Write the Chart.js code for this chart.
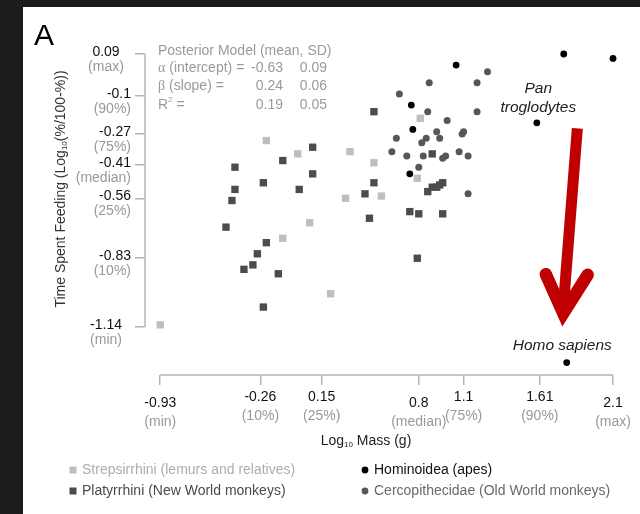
<!DOCTYPE html>
<html>
<head>
<meta charset="utf-8">
<title>Time spent feeding vs body mass</title>
<script src="https://cdn.jsdelivr.net/npm/chart.js@4.4.0/dist/chart.umd.min.js"></script>
<style>
  html, body { margin: 0; padding: 0; background: #1c1c1c; }
  #panel { position: absolute; left: 23px; top: 7px; width: 617px; height: 507px; background: #fff; }
</style>
</head>
<body>
<div id="panel"><canvas id="chart"></canvas></div>
<script>
// axis ticks (value + quantile note)
const xTicks = [-0.93, -0.26, 0.15, 0.8, 1.1, 1.61, 2.1];
const xTickNotes = ['(min)', '(10%)', '(25%)', '(median)', '(75%)', '(90%)', '(max)'];
const yTicks = [0.09, -0.1, -0.27, -0.41, -0.56, -0.83, -1.14];
const yTickNotes = ['(max)', '(90%)', '(75%)', '(median)', '(25%)', '(10%)', '(min)'];

// Strepsirrhini (lemurs and relatives)
const strepX = [-0.93, -0.22, -0.01, 0.34, 0.31, 0.07, -0.11, 0.21, 0.50, 0.55, 0.81, 0.79];
const strepY = [-1.13, -0.30, -0.36, -0.35, -0.56, -0.67, -0.74, -0.99, -0.40, -0.55, -0.20, -0.47];

// Platyrrhini (New World monkeys)
const platyX = [0.09, -0.11, -0.43, 0.09, -0.24, -0.43, 0.00, -0.45, -0.49, -0.22, -0.28, -0.31, -0.37, -0.14, -0.24,
                0.50, 0.89, 0.50, 0.44, 0.47, 0.74, 0.80, 0.96, 0.79, 0.86, 0.89, 0.92, 0.94, 0.96];
const platyY = [-0.33, -0.39, -0.42, -0.45, -0.49, -0.52, -0.52, -0.57, -0.69, -0.76, -0.81, -0.86, -0.88, -0.90, -1.05,
                -0.17, -0.36, -0.49, -0.54, -0.65, -0.62, -0.63, -0.63, -0.83, -0.53, -0.51, -0.51, -0.50, -0.49];

// Hominoidea (apes), last one is Homo sapiens
const homX = [1.05, 1.77, 2.10, 0.75, 0.76, 1.59, 0.74, 1.79];
const homY = [0.04, 0.09, 0.07, -0.14, -0.25, -0.22, -0.45, -1.30];

// Cercopithecidae (Old World monkeys)
const cercX = [1.26, 0.87, 1.19, 0.67, 0.86, 1.19, 0.99, 1.10, 1.09, 0.92, 0.94, 0.85, 0.82, 0.65, 0.62, 0.72,
               0.83, 0.96, 0.98, 1.07, 1.13, 0.80, 1.13];
const cercY = [0.01, -0.04, -0.04, -0.09, -0.17, -0.17, -0.21, -0.26, -0.27, -0.26, -0.29, -0.29, -0.31, -0.29,
               -0.35, -0.37, -0.37, -0.38, -0.37, -0.35, -0.37, -0.42, -0.54];

const FONT = '"Liberation Sans", Arial, Helvetica, sans-serif';

function zip(xs, ys) {
    return xs.map((x, i) => ({ x: x, y: ys[i] }));
}

// draw a run of text pieces, some of them sub/superscript
function richText(ctx, parts, x, y, align, size, color) {
    const fontFor = p => (p.sub || p.sup ? Math.round(size * 0.6) : size) + 'px ' + (p.serif ? '"Liberation Serif", serif' : FONT);
    let total = 0;
    parts.forEach(p => { ctx.font = fontFor(p); total += ctx.measureText(p.t).width; });
    let cx = align === 'center' ? x - total / 2 : align === 'right' ? x - total : x;
    ctx.fillStyle = color;
    ctx.textAlign = 'left';
    ctx.textBaseline = 'middle';
    parts.forEach(p => {
        ctx.font = fontFor(p);
        const dy = p.sub ? size * 0.3 : p.sup ? -size * 0.35 : 0;
        ctx.fillText(p.t, cx, y + dy);
        cx += ctx.measureText(p.t).width;
    });
}

const decorations = {
    id: 'decorations',
    afterDraw(chart) {
        const ctx = chart.ctx;
        const xs = chart.scales.x, ys = chart.scales.y;
        const area = chart.chartArea;
        ctx.save();

        // axis lines only over the tick range
        ctx.strokeStyle = '#b5b5b5';
        ctx.lineWidth = 1.5;
        ctx.beginPath();
        ctx.moveTo(xs.getPixelForValue(xTicks[0]), area.bottom);
        ctx.lineTo(xs.getPixelForValue(xTicks[xTicks.length - 1]), area.bottom);
        ctx.moveTo(area.left, ys.getPixelForValue(yTicks[0]));
        ctx.lineTo(area.left, ys.getPixelForValue(yTicks[yTicks.length - 1]));
        ctx.stroke();

        // x tick labels: value over quantile note
        xTicks.forEach((v, i) => {
            const px = xs.getPixelForValue(v);
            const drop = (xTickNotes[i] === '(min)' || xTickNotes[i] === '(max)' || xTickNotes[i] === '(median)') ? 6 : 0;
            richText(ctx, [{ t: String(v) }], px, area.bottom + 22 + drop, 'center', 14, '#111');
            richText(ctx, [{ t: xTickNotes[i] }], px, area.bottom + 41 + drop, 'center', 14, '#999');
        });

        // y tick labels
        yTicks.forEach((v, i) => {
            const py = ys.getPixelForValue(v);
            const ends = yTickNotes[i] === '(min)' || yTickNotes[i] === '(max)';
            const lx = ends ? area.left - 39 : area.left - 14;
            const al = ends ? 'center' : 'right';
            richText(ctx, [{ t: String(v) }], lx, py - 2, al, 14, '#111');
            richText(ctx, [{ t: yTickNotes[i] }], lx, py + 13, al, 14, '#999');
        });

        // axis titles
        richText(ctx, [{ t: 'Log' }, { t: '10', sub: true }, { t: ' Mass (g)' }], 343, 434, 'center', 14, '#222');
        ctx.save();
        ctx.translate(38, 182);
        ctx.rotate(-Math.PI / 2);
        richText(ctx, [{ t: 'Time Spent Feeding (Log' }, { t: '10', sub: true }, { t: '(%/100-%))' }], 0, 0, 'center', 14, '#333');
        ctx.restore();

        // panel letter
        ctx.fillStyle = '#000';
        ctx.font = '30px ' + FONT;
        ctx.textAlign = 'left';
        ctx.textBaseline = 'alphabetic';
        ctx.fillText('A', 11, 38);

        // posterior model block
        const gray = '#9a9a9a';
        const sx = area.left + 13, c1 = 260, c2 = 304;
        richText(ctx, [{ t: 'Posterior Model (mean, SD)' }], sx, 44, 'left', 14, gray);
        richText(ctx, [{ t: 'α', serif: true }, { t: ' (intercept) =' }], sx, 61, 'left', 14, gray);
        richText(ctx, [{ t: '-0.63' }], c1, 61, 'right', 14, gray);
        richText(ctx, [{ t: '0.09' }], c2, 61, 'right', 14, gray);
        richText(ctx, [{ t: 'β', serif: true }, { t: ' (slope) =' }], sx, 79, 'left', 14, gray);
        richText(ctx, [{ t: '0.24' }], c1, 79, 'right', 14, gray);
        richText(ctx, [{ t: '0.06' }], c2, 79, 'right', 14, gray);
        richText(ctx, [{ t: 'R' }, { t: '2', sup: true }, { t: ' =' }], sx, 98, 'left', 14, gray);
        richText(ctx, [{ t: '0.19' }], c1, 98, 'right', 14, gray);
        richText(ctx, [{ t: '0.05' }], c2, 98, 'right', 14, gray);

        // species labels
        const ital = (txt, vx, vy) => {
            ctx.font = 'italic 15.5px ' + FONT;
            ctx.fillStyle = '#222';
            ctx.textAlign = 'center';
            ctx.textBaseline = 'middle';
            ctx.fillText(txt, xs.getPixelForValue(vx), ys.getPixelForValue(vy));
        };
        ital('Pan', 1.60, -0.068);
        ital('troglodytes', 1.60, -0.153);
        ital('Homo sapiens', 1.76, -1.225);

        // red arrow from chimp down to human
        const P = (vx, vy) => [xs.getPixelForValue(vx), ys.getPixelForValue(vy)];
        const top = P(1.861, -0.245), joint = P(1.767, -1.078);
        const armL = P(1.650, -0.902), armR = P(1.930, -0.905);
        ctx.strokeStyle = '#c00000';
        ctx.lineWidth = 11;
        ctx.lineCap = 'butt';
        ctx.beginPath();
        ctx.moveTo(top[0], top[1]);
        ctx.lineTo(joint[0], joint[1] - 6);
        ctx.stroke();
        ctx.lineWidth = 12.5;
        ctx.lineCap = 'round';
        ctx.lineJoin = 'miter';
        ctx.miterLimit = 10;
        ctx.beginPath();
        ctx.moveTo(armL[0], armL[1]);
        ctx.lineTo(joint[0], joint[1]);
        ctx.lineTo(armR[0], armR[1]);
        ctx.stroke();

        // legend, two columns
        const sets = chart.data.datasets;
        const slots = [[50, 463], [50, 484], [342, 463], [342, 484]];
        sets.forEach((ds, i) => {
            const [lx, ly] = slots[i];
            ctx.fillStyle = ds.backgroundColor;
            ctx.beginPath();
            if (ds.pointStyle === 'rect') ctx.rect(lx - 3.5, ly - 3.5, 7, 7);
            else ctx.arc(lx, ly, 3.4, 0, Math.PI * 2);
            ctx.fill();
            richText(ctx, [{ t: ds.label }], lx + 9, ly, 'left', 14, ds.legendColor);
        });

        ctx.restore();
    }
};

const ctx = document.getElementById('chart').getContext('2d');
new Chart(ctx, {
    type: 'scatter',
    data: {
        datasets: [
            { label: 'Strepsirrhini (lemurs and relatives)', data: zip(strepX, strepY), pointStyle: 'rect',
              pointRadius: 5.2, backgroundColor: '#bebebe', borderWidth: 0, legendColor: '#adadad' },
            { label: 'Platyrrhini (New World monkeys)', data: zip(platyX, platyY), pointStyle: 'rect',
              pointRadius: 5.2, backgroundColor: '#4c4c4c', borderWidth: 0, legendColor: '#4a4a4a' },
            { label: 'Hominoidea (apes)', data: zip(homX, homY), pointStyle: 'circle',
              pointRadius: 3.4, backgroundColor: '#000000', borderWidth: 0, legendColor: '#111111' },
            { label: 'Cercopithecidae (Old World monkeys)', data: zip(cercX, cercY), pointStyle: 'circle',
              pointRadius: 3.5, backgroundColor: '#575757', borderWidth: 0, legendColor: '#6a6a6a' }
        ]
    },
    options: {
        responsive: true,
        maintainAspectRatio: false,
        animation: false,
        events: [],
        layout: { padding: { left: 112, right: 15, top: 33, bottom: 129 } },
        plugins: { legend: { display: false }, tooltip: { enabled: false } },
        scales: {
            x: {
                type: 'linear', min: -1.032, max: 2.18,
                afterBuildTicks: s => { s.ticks = xTicks.map(v => ({ value: v })); },
                grid: { drawOnChartArea: false, drawTicks: true, tickLength: 10, color: '#b5b5b5', lineWidth: 1.5 },
                border: { display: false },
                ticks: { display: false }
            },
            y: {
                type: 'linear', min: -1.356, max: 0.153,
                afterBuildTicks: s => { s.ticks = yTicks.map(v => ({ value: v })); },
                grid: { drawOnChartArea: false, drawTicks: true, tickLength: 10, color: '#b5b5b5', lineWidth: 1.5 },
                border: { display: false },
                ticks: { display: false }
            }
        }
    },
    plugins: [decorations]
});
</script>
</body>
</html>
